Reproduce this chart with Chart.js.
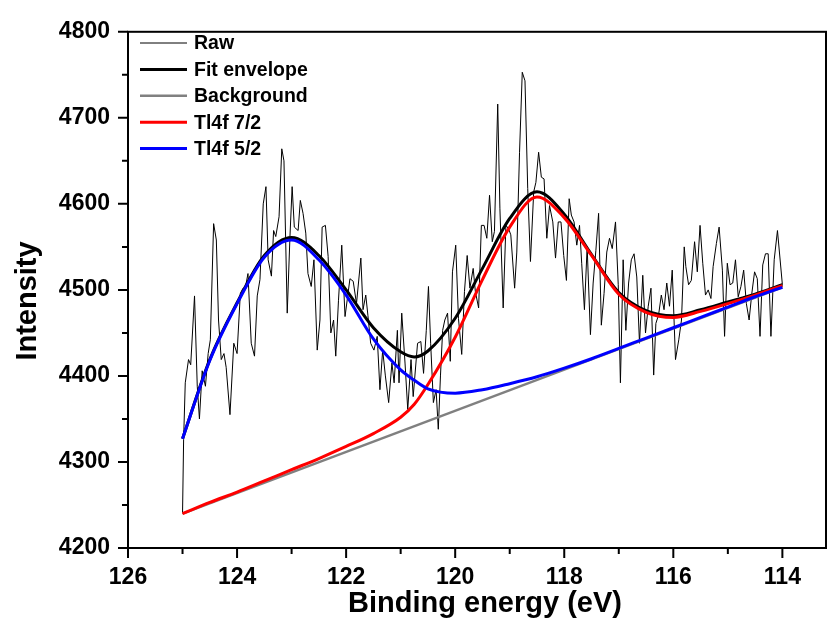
<!DOCTYPE html>
<html>
<head>
<meta charset="utf-8">
<script src="https://cdn.jsdelivr.net/npm/chart.js@4.4.0/dist/chart.umd.min.js"></script>
<style>
  html, body { margin: 0; padding: 0; background: #fff; }
  #wrap { width: 829px; height: 625px; }
</style>
</head>
<body>
<div id="wrap"><canvas id="xps" width="829" height="625"></canvas></div>
<script>
// Raw spectrum (binding energy in eV, counts)
const rawEnergy = [
  125.00, 124.98, 124.95, 124.89, 124.85, 124.78, 124.73, 124.69, 124.64, 124.58,
  124.53, 124.49, 124.43, 124.38, 124.34, 124.29, 124.24, 124.20, 124.13, 124.06,
  124.00, 123.94, 123.89, 123.85, 123.80, 123.74, 123.68, 123.63, 123.58, 123.52,
  123.47, 123.43, 123.37, 123.33, 123.29, 123.23, 123.18, 123.14, 123.08, 123.03,
  122.99, 122.95, 122.88, 122.84, 122.79, 122.74, 122.70, 122.64, 122.59, 122.53,
  122.48, 122.44, 122.38, 122.33, 122.28, 122.23,
  122.19, 122.14, 122.08, 122.02, 121.93, 121.87, 121.81, 121.73, 121.69, 121.64,
  121.60, 121.55, 121.49, 121.43, 121.38, 121.33, 121.28, 121.22, 121.16, 121.12,
  121.06, 121.03, 120.98, 120.92, 120.87, 120.81, 120.77, 120.69, 120.63, 120.58,
  120.53, 120.49, 120.45, 120.40, 120.35, 120.31, 120.27, 120.23, 120.19, 120.14,
  120.09, 120.05, 119.99, 119.94, 119.88, 119.83, 119.78, 119.73, 119.67, 119.63,
  119.57, 119.52, 119.47, 119.42, 119.37, 119.32, 119.28, 119.22, 119.18, 119.12,
  119.07, 119.02, 118.98, 118.91, 118.87, 118.82, 118.77, 118.72, 118.67, 118.62,
  118.56, 118.52, 118.47, 118.42, 118.37, 118.32, 118.27, 118.21, 118.16, 118.11,
  118.06, 118.01, 117.96, 117.91, 117.87, 117.82, 117.77, 117.72,
  117.68, 117.63, 117.58, 117.52, 117.47, 117.42, 117.37, 117.32, 117.27, 117.22,
  117.17, 117.12, 117.06, 117.01, 116.97, 116.92, 116.87, 116.82, 116.77, 116.72,
  116.67, 116.62, 116.56, 116.51, 116.46, 116.41, 116.36, 116.32, 116.27, 116.22,
  116.17, 116.12, 116.07, 116.02, 115.96, 115.90, 115.85, 115.80,
  115.77, 115.72, 115.67, 115.61, 115.56, 115.51, 115.46, 115.41, 115.36, 115.31,
  115.27, 115.21, 115.16, 115.10, 115.06, 115.01, 114.96, 114.91, 114.86, 114.81,
  114.76, 114.71, 114.66, 114.61, 114.56, 114.51, 114.46, 114.41, 114.36, 114.31,
  114.26, 114.21, 114.15, 114.09, 114.00
];
const rawCounts = [
  4240, 4326, 4392, 4419, 4413, 4493, 4388, 4350, 4406, 4388,
  4426, 4442, 4577, 4558, 4465, 4419, 4426, 4410, 4355, 4438,
  4426, 4496, 4502, 4502, 4519, 4438, 4423, 4493, 4512, 4600,
  4620, 4535, 4516, 4569, 4562, 4585, 4664, 4650, 4473, 4562,
  4620, 4573, 4569, 4604, 4589, 4566, 4519, 4504, 4535, 4430,
  4465, 4573, 4575, 4539, 4450, 4465,
  4423, 4488, 4552, 4469, 4513, 4510, 4484, 4537, 4477, 4494,
  4470, 4438, 4430, 4446, 4384, 4430, 4400, 4369, 4415, 4392,
  4453, 4392, 4473, 4415, 4361, 4419, 4376, 4438, 4440, 4403,
  4453, 4504, 4438, 4369, 4384, 4338, 4400, 4453, 4465, 4473,
  4417, 4521, 4552, 4467, 4425, 4498, 4540, 4502, 4525, 4498,
  4479, 4575, 4575, 4560, 4610, 4556, 4568, 4716, 4595, 4479,
  4575, 4571, 4564, 4502, 4544, 4660, 4753, 4743, 4618, 4533,
  4614, 4625, 4660, 4631, 4629, 4560, 4598, 4579, 4537, 4579,
  4579, 4540, 4511, 4606, 4587, 4579, 4552, 4575,
  4531, 4477, 4550, 4448, 4508, 4546, 4589, 4459, 4496, 4544,
  4560, 4548, 4579, 4506, 4392, 4535, 4453, 4508, 4535, 4542,
  4515, 4438, 4517, 4450, 4481, 4502, 4401, 4461, 4471, 4494,
  4477, 4508, 4481, 4523, 4419, 4442, 4465, 4550,
  4527, 4506, 4511, 4556, 4521, 4575, 4531, 4494, 4500, 4490,
  4527, 4554, 4573, 4523, 4446, 4531, 4506, 4508, 4535, 4492,
  4504, 4523, 4484, 4465, 4496, 4521, 4513, 4446, 4529, 4542,
  4542, 4446, 4535, 4569, 4506
];

// Fitted components
const fitEnergy = [125, 124.5, 124, 123.5, 123, 122.5, 122, 121.5, 121, 120.75, 120.5, 120,
                   119.5, 119, 118.5, 118, 117.5, 117, 116.5, 116, 115.5, 115, 114.5, 114];
const envelope = [4327, 4419, 4485, 4540, 4561, 4540, 4500, 4456, 4428, 4422, 4429, 4467,
                  4525, 4583, 4614, 4588, 4541, 4497, 4476, 4470, 4477, 4486, 4495, 4506];
const peak72 = [4240, 4253, 4265, 4278, 4291, 4304, 4318, 4333, 4352, 4367, 4390, 4445,
                4512, 4573, 4608, 4584, 4540, 4495, 4474, 4468, 4475, 4484, 4494, 4505];
const peak52 = [4327, 4418, 4484, 4538, 4558, 4535, 4494, 4443, 4407, 4395, 4385, 4380,
                4384, 4391, 4399, 4409, 4420, 4432, 4444, 4456, 4468, 4480, 4492, 4503];
const bgEnergy = [125, 114];
const bgCounts = [4240, 4503];

const xTicks = [126, 124, 122, 120, 118, 116, 114];
const xMinor = [125, 123, 121, 119, 117, 115];
const yTicks = [4200, 4300, 4400, 4500, 4600, 4700, 4800];
const yMinor = [4250, 4350, 4450, 4550, 4650, 4750];

const FONT = '"Liberation Sans", Arial, sans-serif';

function pts(xs, ys) {
  return xs.map((x, i) => ({ x: x, y: ys[i] }));
}

// box frame, tick marks, axis titles and legend
const decor = {
  id: 'decor',
  afterDraw(chart) {
    const ctx = chart.ctx;
    const a = chart.chartArea;
    const sx = chart.scales.x;
    const sy = chart.scales.y;
    ctx.save();
    ctx.strokeStyle = '#000';
    ctx.lineWidth = 2;
    ctx.strokeRect(a.left, a.top, a.right - a.left, a.bottom - a.top);

    ctx.beginPath();
    xTicks.forEach(v => { const p = sx.getPixelForValue(v); ctx.moveTo(p, a.bottom); ctx.lineTo(p, a.bottom + 10); });
    xMinor.forEach(v => { const p = sx.getPixelForValue(v); ctx.moveTo(p, a.bottom); ctx.lineTo(p, a.bottom + 6); });
    yTicks.forEach(v => { const p = sy.getPixelForValue(v); ctx.moveTo(a.left, p); ctx.lineTo(a.left - 10, p); });
    yMinor.forEach(v => { const p = sy.getPixelForValue(v); ctx.moveTo(a.left, p); ctx.lineTo(a.left - 6, p); });
    ctx.stroke();

    ctx.fillStyle = '#000';
    ctx.font = 'bold 29px ' + FONT;
    ctx.textAlign = 'center';
    ctx.textBaseline = 'middle';
    ctx.fillText('Binding energy (eV)', 485, 604);
    ctx.save();
    ctx.translate(28, 301);
    ctx.rotate(-Math.PI / 2);
    ctx.fillText('Intensity', 0, 0);
    ctx.restore();

    // legend
    ctx.font = 'bold 19.5px ' + FONT;
    ctx.textAlign = 'left';
    chart.data.datasets.forEach((ds, i) => {
      const y = 43 + i * 26.4;
      ctx.beginPath();
      ctx.strokeStyle = ds.borderColor;
      ctx.lineWidth = ds.borderWidth;
      ctx.moveTo(140, y);
      ctx.lineTo(187, y);
      ctx.stroke();
      ctx.fillText(ds.label, 194, y + 1);
    });
    ctx.restore();
  }
};

const tickFont = { family: FONT, size: 23, weight: 'bold' };

new Chart(document.getElementById('xps'), {
  type: 'line',
  data: {
    datasets: [
      { label: 'Raw', data: pts(rawEnergy, rawCounts), borderColor: '#000000', borderWidth: 1, order: 4 },
      { label: 'Fit envelope', data: pts(fitEnergy, envelope), borderColor: '#000000', borderWidth: 3,
        cubicInterpolationMode: 'monotone', order: 2 },
      { label: 'Background', data: pts(bgEnergy, bgCounts), borderColor: '#808080', borderWidth: 2.5, order: 3 },
      { label: 'Tl4f 7/2', data: pts(fitEnergy, peak72), borderColor: '#ff0000', borderWidth: 3,
        cubicInterpolationMode: 'monotone', order: 1 },
      { label: 'Tl4f 5/2', data: pts(fitEnergy, peak52), borderColor: '#0000ff', borderWidth: 3,
        cubicInterpolationMode: 'monotone', order: 0 }
    ]
  },
  options: {
    responsive: false,
    animation: false,
    devicePixelRatio: 1,
    layout: { padding: { top: 28, right: 3, left: 0, bottom: 0 } },
    elements: { point: { radius: 0 }, line: { fill: false } },
    plugins: { legend: { display: false }, tooltip: { enabled: false } },
    scales: {
      x: {
        type: 'linear',
        reverse: true,
        min: 113.2,
        max: 126,
        afterBuildTicks: s => { s.ticks = xTicks.map(v => ({ value: v })); },
        afterFit: s => { s.height = 77; },
        grid: { display: false, drawTicks: false },
        border: { display: true, color: '#000', width: 2 },
        ticks: { autoSkip: false, maxRotation: 0, padding: 16, color: '#000', font: tickFont,
                 callback: v => String(v) }
      },
      y: {
        min: 4200,
        max: 4800,
        afterBuildTicks: s => { s.ticks = yTicks.map(v => ({ value: v })); },
        afterFit: s => { s.width = 128; },
        grid: { display: false, drawTicks: false },
        border: { display: true, color: '#000', width: 2 },
        ticks: { padding: 18, color: '#000', font: tickFont, callback: v => String(v) }
      }
    }
  },
  plugins: [decor]
});
</script>
</body>
</html>
